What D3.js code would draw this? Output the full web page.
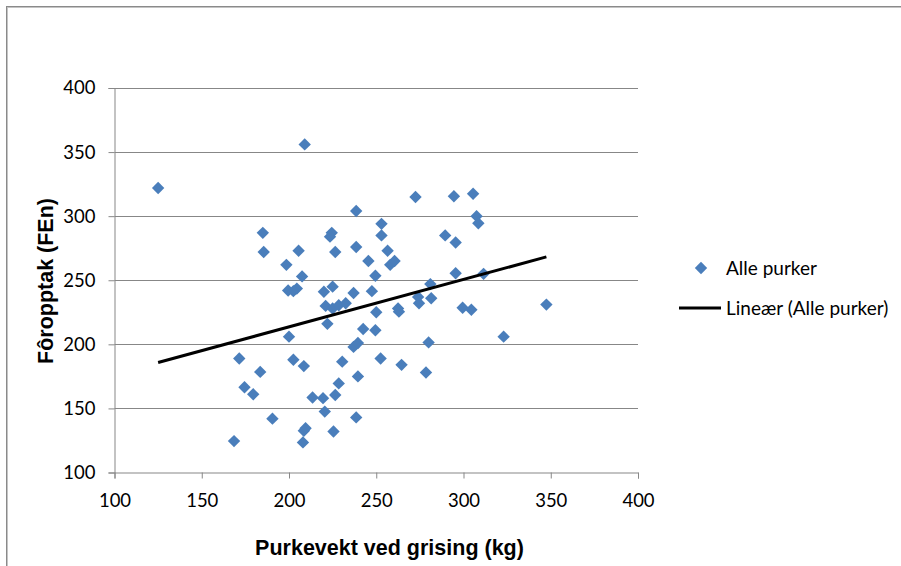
<!DOCTYPE html>
<html>
<head>
<meta charset="utf-8">
<script src="https://cdn.jsdelivr.net/npm/d3@7"></script>
<style>
  html, body { margin: 0; padding: 0; background: #fff; }
  svg { display: block; }
</style>
</head>
<body>
<svg id="chart" width="901" height="566"></svg>
<script>
// Sow weight at farrowing (kg) against feed intake (FEn)
const weightKg = [
  125, 209, 185, 185.5, 198.5, 205.5, 207.5, 238.5, 224.5, 223.5,
  226.5, 238.5, 245.5, 249.5, 253, 253, 272.5, 294.5, 305.5, 307.5,
  308.5, 256.5, 258, 260.5, 289.5, 295.5, 295.5, 311.5, 247.5, 281,
  274, 281.5, 274.5, 262.5, 263, 299.5, 304.5, 347.5, 250, 242.5,
  249.5, 280, 323, 252.5, 264.5, 278.5, 199.5, 204.5, 202.5, 220,
  225, 237, 221, 225, 228.5, 232.5, 222, 200, 171.5, 202.5,
  208.5, 237, 239.5, 230.5, 239.5, 183.5, 174.5, 179.5, 228.5, 213.5,
  219.5, 226.5, 220.5, 190.5, 238.5, 208.5, 209.5, 225.5, 208, 168.5
];
const feedFEn = [
  322, 356, 287, 272, 262, 273, 253, 304, 287, 284,
  272, 276, 265, 253.5, 294, 285, 315, 315.5, 317.5, 300,
  294.5, 273, 262, 265, 285, 279.5, 255.5, 255, 241.5, 247,
  237, 236, 232, 228, 225.5, 228.5, 227, 231, 225, 212,
  211, 201.5, 206, 189, 184, 178, 242, 243.5, 241.5, 241,
  245, 240, 230, 228, 230.5, 232, 216, 206, 189, 188,
  183, 198, 201, 186.5, 175, 178.5, 166.5, 161, 169.5, 158.5,
  158, 160.5, 147.5, 142, 143, 132.5, 134.5, 132, 123.5, 124.5
];
const xTicks = [100, 150, 200, 250, 300, 350, 400];
const yTicks = [100, 150, 200, 250, 300, 350, 400];
const seriesName = "Alle purker";
const trendName = "Lineær (Alle purker)";
const xTitle = "Purkevekt ved grising (kg)";
const yTitle = "Fôropptak (FEn)";

const svg = d3.select("#chart");
const plotLeft = 114.5, plotRight = 638, plotTop = 88, plotBottom = 472.5;
const x = d3.scaleLinear().domain([100, 400]).range([plotLeft, plotRight]);
const y = d3.scaleLinear().domain([100, 400]).range([plotBottom, plotTop]);

const gridColor = "#878787";
const blue = "#4a7ebb";
const tickFont = "Lato, 'Open Sans', sans-serif";
const titleFont = "'Liberation Sans', Arial, sans-serif";

// Outer chart frame
svg.append("rect").attr("x", 6.5).attr("y", 6.5).attr("width", 920).attr("height", 600)
  .attr("fill", "none").attr("stroke", "#8a8a8a").attr("stroke-width", 1);
svg.append("rect").attr("x", 7.5).attr("y", 7.5).attr("width", 920).attr("height", 600)
  .attr("fill", "none").attr("stroke", "#c4c4c4").attr("stroke-width", 1);

// Horizontal gridlines
svg.append("g").selectAll("line").data(yTicks.filter(d => d !== 100)).join("line")
  .attr("x1", plotLeft).attr("x2", plotRight)
  .attr("y1", d => Math.round(y(d)) + 0.5).attr("y2", d => Math.round(y(d)) + 0.5)
  .attr("stroke", gridColor).attr("stroke-width", 1);

// Axes
const yAxis = d3.axisLeft(y).tickValues(yTicks).tickSize(6).tickPadding(13);
const xAxis = d3.axisBottom(x).tickValues(xTicks).tickSize(6).tickPadding(15);

const gy = svg.append("g").attr("transform", `translate(${plotLeft},0)`).call(yAxis);
const gx = svg.append("g").attr("transform", `translate(0,${plotBottom})`).call(xAxis);
[gx, gy].forEach(g => {
  g.select(".domain").attr("stroke", gridColor);
  g.selectAll(".tick line").attr("stroke", gridColor);
  g.selectAll(".tick text").attr("fill", "#000")
    .style("font-family", tickFont).style("font-size", "18.5px");
});

// Points
const pts = weightKg.map((w, i) => [w, feedFEn[i]]);
const diamond = d3.symbol().type(d3.symbolDiamond2).size(98);
svg.append("g").selectAll("path").data(pts).join("path")
  .attr("transform", d => `translate(${x(d[0])},${y(d[1])})`)
  .attr("d", diamond)
  .attr("fill", blue);

// Least-squares trend line across the data range
const mx = d3.mean(weightKg), my = d3.mean(feedFEn);
const slope = d3.sum(pts, d => (d[0] - mx) * (d[1] - my)) / d3.sum(pts, d => (d[0] - mx) ** 2);
const icpt = my - slope * mx;
const [xmin, xmax] = d3.extent(weightKg);
svg.append("line")
  .attr("x1", x(xmin)).attr("y1", y(icpt + slope * xmin))
  .attr("x2", x(xmax)).attr("y2", y(icpt + slope * xmax))
  .attr("stroke", "#000").attr("stroke-width", 3);

// Axis titles
svg.append("text").attr("x", 389.5).attr("y", 555).attr("text-anchor", "middle")
  .style("font-family", titleFont).style("font-weight", "bold").style("font-size", "21.5px")
  .text(xTitle);
svg.append("text").attr("transform", "translate(53,281) rotate(-90)").attr("text-anchor", "middle")
  .style("font-family", titleFont).style("font-weight", "bold").style("font-size", "21.5px")
  .text(yTitle);

// Legend
const lg = svg.append("g");
lg.append("path").attr("transform", "translate(701,268)").attr("d", diamond).attr("fill", blue);
lg.append("text").attr("x", 726).attr("y", 275)
  .style("font-family", tickFont).style("font-size", "19px").text(seriesName);
lg.append("line").attr("x1", 679).attr("x2", 721).attr("y1", 308).attr("y2", 308)
  .attr("stroke", "#000").attr("stroke-width", 3);
lg.append("text").attr("x", 726).attr("y", 315)
  .style("font-family", tickFont).style("font-size", "19px").text(trendName);
</script>
</body>
</html>
